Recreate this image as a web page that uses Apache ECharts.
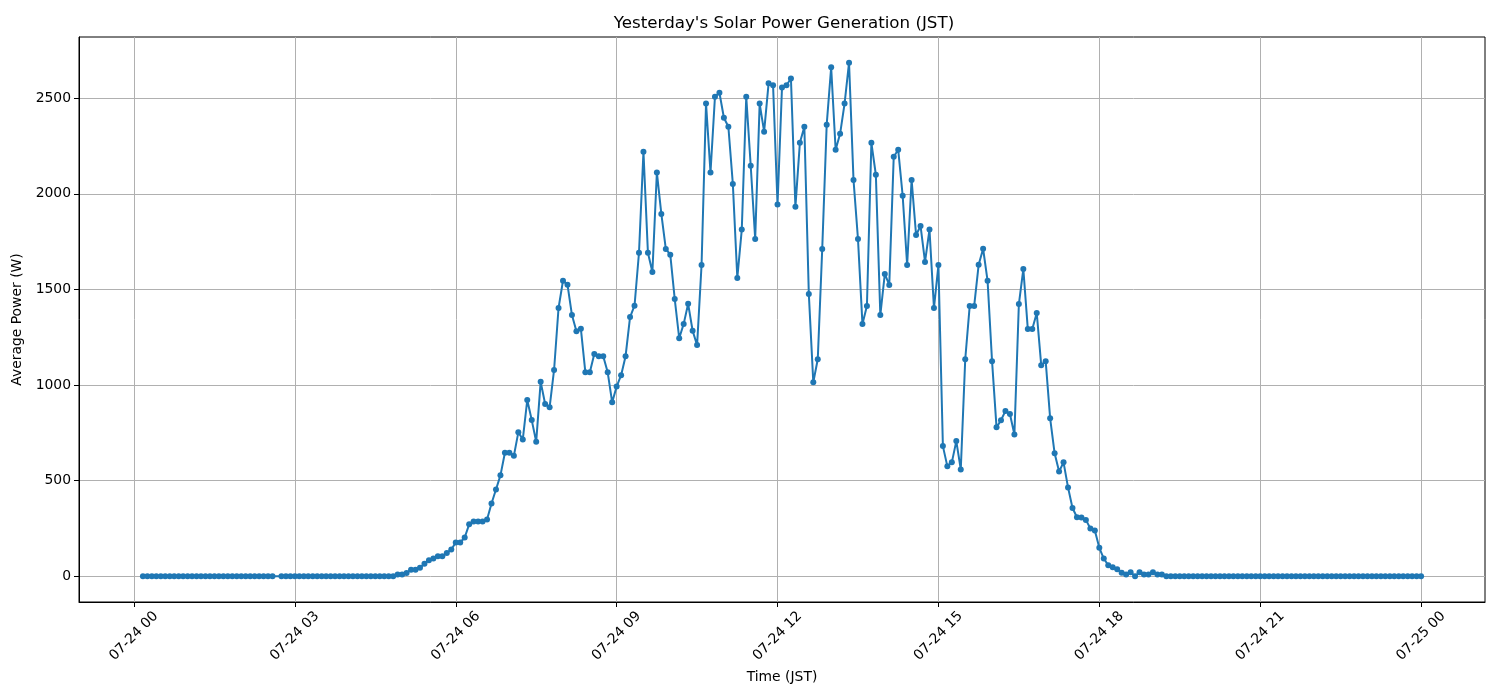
<!DOCTYPE html>
<html>
<head>
<meta charset="utf-8">
<title>Yesterday's Solar Power Generation (JST)</title>
<script src="https://cdn.jsdelivr.net/npm/echarts@6/dist/echarts.min.js"></script>
<style>
  html, body { margin: 0; padding: 0; background: #fff; }
  #chart { width: 1500px; height: 700px; }
</style>
</head>
<body>
<div id="chart"></div>
<script>
/** 数据：5分钟一条，从 07-24 00:10 到 07-25 00:00 (02:40 缺一条) */
const startHour = 10 / 60;   // 07-24 00:10, 以 07-24 00:00 起算的小时数
const stepHour = 5 / 60;
const dayLabel = ['07-24', '07-25'];

// 刻度 (小时) 与 y 刻度
const xTickHours = [0, 3, 6, 9, 12, 15, 18, 21, 24];
const yTickValues = [0, 500, 1000, 1500, 2000, 2500];

// 平均功率 (W)，按小时分行
const powerValues = [
  /* 00 */ 0, 0, 0, 0, 0, 0, 0, 0, 0, 0,
  /* 01 */ 0, 0, 0, 0, 0, 0, 0, 0, 0, 0, 0, 0,
  /* 02 */ 0, 0, 0, 0, 0, 0, 0, 0, null, 0, 0, 0,
  /* 03 */ 0, 0, 0, 0, 0, 0, 0, 0, 0, 0, 0, 0,
  /* 04 */ 0, 0, 0, 0, 0, 0, 0, 0, 0, 0, 0, 9,
  /* 05 */ 9, 17, 35, 35, 45, 66, 84, 93, 105, 105, 122, 140,
  /* 06 */ 177, 177, 203, 272, 287, 287, 287, 297, 381, 454, 528, 646,
  /* 07 */ 646, 630, 753, 716, 922, 817, 704, 1017, 901, 884, 1079, 1403,
  /* 08 */ 1546, 1525, 1366, 1282, 1294, 1067, 1067, 1162, 1151, 1151, 1067, 910,
  /* 09 */ 992, 1052, 1151, 1356, 1415, 1692, 2220, 1692, 1591, 2112, 1895, 1712,
  /* 10 */ 1682, 1450, 1245, 1320, 1425, 1284, 1209, 1628, 2473, 2112, 2508, 2529,
  /* 11 */ 2398, 2351, 2052, 1560, 1813, 2508, 2147, 1764, 2472, 2325, 2578, 2568,
  /* 12 */ 1944, 2556, 2568, 2603, 1932, 2267, 2351, 1477, 1015, 1135, 1712, 2362,
  /* 13 */ 2662, 2231, 2314, 2472, 2686, 2073, 1764, 1319, 1413, 2267, 2100, 1366,
  /* 14 */ 1581, 1524, 2194, 2231, 1990, 1628, 2073, 1785, 1832, 1644, 1813, 1403,
  /* 15 */ 1628, 681, 575, 596, 707, 559, 1135, 1414, 1414, 1629, 1713, 1545,
  /* 16 */ 1125, 779, 816, 865, 849, 742, 1424, 1607, 1293, 1293, 1377, 1104,
  /* 17 */ 1125, 826, 643, 548, 596, 465, 357, 309, 308, 295, 250, 240,
  /* 18 */ 149, 93, 58, 47, 37, 19, 9, 21, 0, 21, 9, 9,
  /* 19 */ 21, 9, 9, 0, 0, 0, 0, 0, 0, 0, 0, 0,
  /* 20 */ 0, 0, 0, 0, 0, 0, 0, 0, 0, 0, 0, 0,
  /* 21 */ 0, 0, 0, 0, 0, 0, 0, 0, 0, 0, 0, 0,
  /* 22 */ 0, 0, 0, 0, 0, 0, 0, 0, 0, 0, 0, 0,
  /* 23 */ 0, 0, 0, 0, 0, 0, 0, 0, 0, 0, 0, 0,
  /* 24 */ 0
];

/** 样式 */
const lineColor = '#1f77b4';
const fontFamily = 'DejaVu Sans';

// 时间点 (缺的那条为 null 值，折线直接连过去)
const seriesData = powerValues.map(function (v, i) {
  return [startHour + i * stepHour, v];
});

// matplotlib 默认 5% 边距
const tFirst = startHour;
const tLast = startHour + (powerValues.length - 1) * stepHour;
const tPad = (tLast - tFirst) * 0.05;
const vMax = Math.max.apply(null, powerValues.filter(function (v) { return v !== null; }));
const vPad = vMax * 0.05;

const pad2 = function (n) { return (n < 10 ? '0' : '') + n; };

var myChart = echarts.init(document.getElementById('chart'), null, { renderer: 'canvas' });

const option = {
  animation: false,
  backgroundColor: '#fff',
  textStyle: { fontFamily: fontFamily },
  title: {
    text: "Yesterday's Solar Power Generation (JST)",
    left: 779,
    top: 10,
    textAlign: 'center',
    textStyle: { fontFamily: fontFamily, fontSize: 16.7, fontWeight: 'normal', color: '#000' }
  },
  grid: {
    left: 79,
    right: 15,
    top: 37,
    bottom: 98,
    show: true,
    borderColor: '#000',
    borderWidth: 1,
    backgroundColor: 'transparent'
  },
  xAxis: {
    type: 'value',
    min: tFirst - tPad,
    max: tLast + tPad,
    splitNumber: 9,
    name: 'Time (JST)',
    nameLocation: 'middle',
    nameGap: 68,
    nameTextStyle: { fontFamily: fontFamily, fontSize: 13.9, color: '#000' },
    axisLine: { show: true, onZero: false, lineStyle: { color: '#000', width: 1 } },
    axisTick: { show: true, length: 5, customValues: xTickHours, lineStyle: { color: '#000', width: 1 } },
    splitLine: { show: true, lineStyle: { color: '#b0b0b0', width: 1 } },
    axisLabel: {
      customValues: xTickHours,
      rotate: 45,
      align: 'center',
      verticalAlign: 'middle',
      margin: 34,
      fontFamily: fontFamily,
      fontSize: 13.9,
      color: '#000',
      formatter: function (value) {
        var h = Math.round(value);
        var day = Math.floor(h / 24);
        return dayLabel[day] + ' ' + pad2(h % 24);
      }
    }
  },
  yAxis: {
    type: 'value',
    min: -vPad,
    max: vMax + vPad,
    splitNumber: 5,
    name: 'Average Power (W)',
    nameLocation: 'middle',
    nameGap: 46,
    nameTextStyle: { fontFamily: fontFamily, fontSize: 13.9, color: '#000' },
    axisLine: { show: true, onZero: false, lineStyle: { color: '#000', width: 1 } },
    axisTick: { show: true, length: 5, customValues: yTickValues, lineStyle: { color: '#000', width: 1 } },
    splitLine: { show: true, lineStyle: { color: '#b0b0b0', width: 1 } },
    axisLabel: {
      customValues: yTickValues,
      margin: 8,
      fontFamily: fontFamily,
      fontSize: 13.9,
      color: '#000',
      formatter: function (value) { return String(value); }
    }
  },
  series: [
    {
      name: 'Average Power',
      type: 'line',
      data: seriesData,
      connectNulls: true,
      symbol: 'circle',
      symbolSize: 6,
      showSymbol: true,
      lineStyle: { color: lineColor, width: 2 },
      itemStyle: { color: lineColor }
    }
  ]
};

myChart.setOption(option);
</script>
</body>
</html>
